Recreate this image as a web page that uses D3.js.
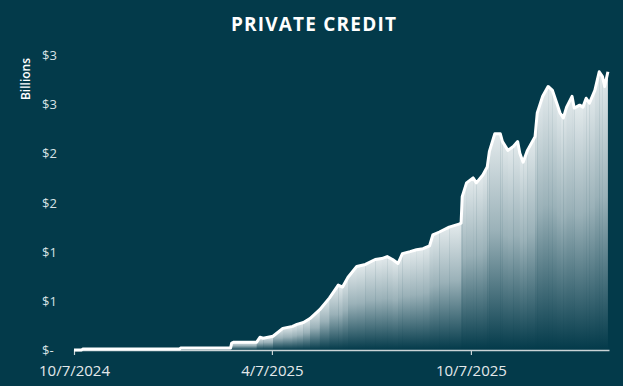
<!DOCTYPE html>
<html>
<head>
<meta charset="utf-8">
<script src="https://cdn.jsdelivr.net/npm/d3@7"></script>
<style>
  html, body { margin: 0; padding: 0; background: #033a4a; }
  svg { display: block; }
</style>
</head>
<body>
<div id="chart"></div>
<script>
// Private credit balance, billions.
const dates = [
  "2024-10-07", "2024-10-14", "2024-10-15", "2025-01-12", "2025-01-13",
  "2025-02-28", "2025-03-01", "2025-03-03", "2025-03-24", "2025-03-27",
  "2025-03-30", "2025-04-08", "2025-04-17", "2025-04-26", "2025-04-30",
  "2025-05-06", "2025-05-12", "2025-05-21", "2025-05-30", "2025-06-07",
  "2025-06-11", "2025-06-16", "2025-06-24", "2025-07-02", "2025-07-11",
  "2025-07-17", "2025-07-22", "2025-07-27", "2025-08-01", "2025-08-05",
  "2025-08-12", "2025-08-18", "2025-08-24", "2025-08-30", "2025-09-02",
  "2025-09-08", "2025-09-17", "2025-09-26", "2025-09-28", "2025-09-29",
  "2025-10-03", "2025-10-09", "2025-10-12", "2025-10-18", "2025-10-22",
  "2025-10-24", "2025-10-29", "2025-11-03", "2025-11-05", "2025-11-10",
  "2025-11-15", "2025-11-19", "2025-11-21", "2025-11-24", "2025-11-28",
  "2025-12-05", "2025-12-07", "2025-12-12", "2025-12-17", "2025-12-21",
  "2025-12-25", "2025-12-28", "2025-12-31", "2026-01-03", "2026-01-08",
  "2026-01-10", "2026-01-15", "2026-01-18", "2026-01-21", "2026-01-24",
  "2026-01-29", "2026-02-02", "2026-02-05", "2026-02-07", "2026-02-10"
];
const values = [
  0.00, 0.00, 0.01, 0.01, 0.02,
  0.02, 0.07, 0.08, 0.08, 0.13,
  0.12, 0.14, 0.22, 0.24, 0.26,
  0.28, 0.32, 0.41, 0.53, 0.66,
  0.64, 0.74, 0.85, 0.87, 0.92,
  0.93, 0.95, 0.92, 0.88, 0.98,
  1.00, 1.02, 1.03, 1.06, 1.17,
  1.20, 1.25, 1.28, 1.29, 1.56,
  1.70, 1.75, 1.70, 1.78, 1.86,
  2.02, 2.20, 2.20, 2.12, 2.03,
  2.07, 2.12, 2.00, 1.91, 2.03,
  2.17, 2.41, 2.58, 2.68, 2.64,
  2.51, 2.41, 2.36, 2.47, 2.58,
  2.46, 2.49, 2.47, 2.56, 2.51,
  2.64, 2.83, 2.78, 2.68, 2.83
];
const xDomain = ["2024-10-07", "2026-02-11"];
const xTicks = ["2024-10-07", "2025-04-07", "2025-10-07"];
const xTickLabels = ["10/7/2024", "4/7/2025", "10/7/2025"];
const yTicks = [0, 0.5, 1, 1.5, 2, 2.5, 3];
const yTickLabels = ["$-", "$1", "$1", "$2", "$2", "$3", "$3"];

const W = 623, H = 386;
const BG = "#033a4a";
const parse = d3.utcParse("%Y-%m-%d");

const data = dates.map((d, i) => ({ date: parse(d), value: values[i] }));

const svg = d3.select("#chart").append("svg")
  .attr("width", W).attr("height", H)
  .style("background", BG);

const x = d3.scaleUtc()
  .domain(xDomain.map(parse))
  .range([74, 609]);
const y = d3.scaleLinear()
  .domain([0, 3])
  .range([350, 55]);

const defs = svg.append("defs");
const grad = defs.append("linearGradient")
  .attr("id", "barGrad")
  .attr("x1", 0).attr("y1", 0).attr("x2", 0).attr("y2", 1);
grad.append("stop").attr("offset", "0").attr("stop-color", "#e3eaec");
grad.append("stop").attr("offset", "0.45").attr("stop-color", "#9ab1b8");
grad.append("stop").attr("offset", "1").attr("stop-color", BG);

const area = d3.area()
  .x((d) => x(d.date))
  .y0(y(0))
  .y1((d) => y(d.value));

defs.append("clipPath").attr("id", "areaClip")
  .append("path").datum(data).attr("d", area);

// title
svg.append("text")
  .attr("x", 314).attr("y", 31)
  .attr("text-anchor", "middle")
  .attr("font-family", "'Open Sans', sans-serif")
  .attr("font-weight", 700)
  .attr("font-size", 19)
  .attr("letter-spacing", 1.2)
  .attr("fill", "#ffffff")
  .text("PRIVATE CREDIT");

// y axis label
svg.append("text")
  .attr("transform", "translate(30,79) rotate(-90)")
  .attr("text-anchor", "middle")
  .attr("font-family", "'Open Sans', sans-serif")
  .attr("font-weight", 600)
  .attr("font-size", 12)
  .attr("fill", "#ffffff")
  .text("Billions");

// y tick labels (no axis line in the reference)
svg.append("g").selectAll("text")
  .data(yTicks)
  .join("text")
  .attr("x", 42)
  .attr("y", (d) => y(d) + 5)
  .attr("font-family", "'Open Sans', sans-serif")
  .attr("font-size", 13)
  .attr("fill", "#d9e2e5")
  .text((d, i) => yTickLabels[i]);

// gradient bars, one per interval, clipped to the area shape
const bars = svg.append("g").attr("clip-path", "url(#areaClip)");
const segs = data.slice(0, -1);
bars.selectAll("rect")
  .data(segs)
  .join("rect")
  .attr("x", (d) => x(d.date))
  .attr("width", (d, i) => x(data[i + 1].date) - x(d.date) + 0.4)
  .attr("y", (d, i) => y(Math.max(d.value, data[i + 1].value)))
  .attr("height", (d, i) => y(0) - y(Math.max(d.value, data[i + 1].value)))
  .attr("fill", "url(#barGrad)");

// faint light seams where bars meet
bars.selectAll("line")
  .data(segs)
  .join("line")
  .attr("x1", (d) => x(d.date) + 0.5)
  .attr("x2", (d) => x(d.date) + 0.5)
  .attr("y1", (d) => y(d.value))
  .attr("y2", y(0))
  .attr("stroke", "url(#barGrad)")
  .attr("stroke-width", 1)
  .attr("opacity", 0.5);

// x axis
const xAxis = d3.axisBottom(x)
  .tickValues(xTicks.map(parse))
  .tickFormat((d, i) => xTickLabels[i])
  .tickSizeInner(5)
  .tickSizeOuter(0)
  .tickPadding(10);

const gx = svg.append("g")
  .attr("transform", `translate(0,${y(0)})`)
  .call(xAxis);
gx.select(".domain").attr("stroke", "#c9d3d6").attr("stroke-width", 1.5);
gx.selectAll(".tick line").attr("stroke", "#c9d3d6").attr("stroke-width", 1.2);
gx.selectAll(".tick text")
  .attr("font-family", "'Open Sans', sans-serif")
  .attr("font-size", 15)
  .attr("fill", "#e3e9eb");

// line on top
const line = d3.line()
  .x((d) => x(d.date))
  .y((d) => y(d.value));

svg.append("path")
  .datum(data)
  .attr("d", line)
  .attr("fill", "none")
  .attr("stroke", "#ffffff")
  .attr("stroke-width", 3)
  .attr("stroke-linejoin", "round");
</script>
</body>
</html>
